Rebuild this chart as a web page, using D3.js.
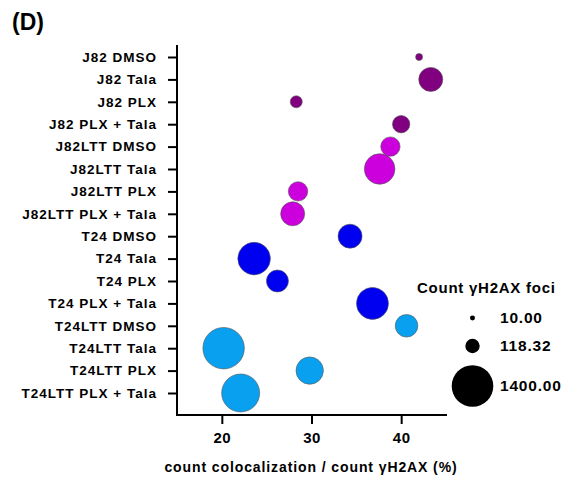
<!DOCTYPE html>
<html>
<head>
<meta charset="utf-8">
<script src="https://cdn.jsdelivr.net/npm/d3@7"></script>
<style>
  body { margin: 0; background: #fff; }
  text { font-family: "Liberation Sans", Arial, sans-serif; font-weight: bold; fill: #000; }
</style>
</head>
<body>
<div id="chart"></div>
<script>
// data
var groups = ["J82 DMSO", "J82 Tala", "J82 PLX", "J82 PLX + Tala",
  "J82LTT DMSO", "J82LTT Tala", "J82LTT PLX", "J82LTT PLX + Tala",
  "T24 DMSO", "T24 Tala", "T24 PLX", "T24 PLX + Tala",
  "T24LTT DMSO", "T24LTT Tala", "T24LTT PLX", "T24LTT PLX + Tala"];
var colocPct = [42.0, 43.3, 28.3, 40.0, 38.8, 37.6, 28.5, 27.9,
  34.3, 23.6, 26.2, 36.8, 40.6, 20.2, 29.8, 22.1];
var fociCount = [22, 390, 78, 184, 237, 686, 237, 390,
  390, 794, 318, 761, 339, 1390, 530, 1134];
var groupColors = ["#800080", "#800080", "#800080", "#800080",
  "#cc00dd", "#cc00dd", "#cc00dd", "#cc00dd",
  "#0000f0", "#0000f0", "#0000f0", "#0000f0",
  "#0aa0f0", "#0aa0f0", "#0aa0f0", "#0aa0f0"];
var xTicks = [20, 30, 40];
var legendValues = [10.00, 118.32, 1400.00];

var W = 588, H = 481;
var svg = d3.select("#chart").append("svg")
  .attr("width", W).attr("height", H);

var x = d3.scaleLinear().domain([15, 45]).range([177, 446]);
var y = d3.scalePoint().domain(groups).range([57, 393]);
var r = d3.scalePow().exponent(0.43).domain([0, 1400]).range([0, 20.8]);

// title
svg.append("text").attr("x", 12).attr("y", 30)
  .style("font-size", "23px").text("(D)");

// y axis
var yAxis = svg.append("g")
  .attr("transform", "translate(177,0)")
  .call(d3.axisLeft(y).tickSize(9).tickPadding(11));
yAxis.select(".domain").attr("d", "M0,45V415");
yAxis.selectAll("line, path").attr("stroke", "#000").attr("stroke-width", 2);
yAxis.selectAll("text")
  .style("font-size", "13.5px").style("letter-spacing", "1px")
  .attr("font-family", null);

// x axis
var xAxis = svg.append("g")
  .attr("transform", "translate(0,415)")
  .call(d3.axisBottom(x).tickValues(xTicks).tickSize(9).tickPadding(8).tickSizeOuter(0));
xAxis.select(".domain").attr("d", "M176,0H447");
xAxis.selectAll("line, path").attr("stroke", "#000").attr("stroke-width", 2);
xAxis.selectAll("text")
  .style("font-size", "15px").style("letter-spacing", "0.5px")
  .attr("font-family", null);

svg.append("text")
  .attr("x", 311).attr("y", 472)
  .attr("text-anchor", "middle")
  .style("font-size", "14px").style("letter-spacing", "0.9px")
  .text("count colocalization / count γH2AX (%)");

// bubbles
var pts = groups.map(function(g, i) {
  return {g: g, v: colocPct[i], n: fociCount[i], c: groupColors[i]};
});
svg.append("g").selectAll("circle")
  .data(pts)
  .join("circle")
    .attr("cx", d => x(d.v))
    .attr("cy", d => y(d.g))
    .attr("r", d => r(d.n))
    .attr("fill", d => d.c)
    .attr("stroke", "#555")
    .attr("stroke-width", 0.6);

// size legend
svg.append("text").attr("x", 417).attr("y", 293)
  .style("font-size", "15px").style("letter-spacing", "0.75px")
  .text("Count γH2AX foci");
var legY = [318, 346, 386];
var leg = svg.append("g").selectAll("g")
  .data(legendValues)
  .join("g")
    .attr("transform", (d, i) => "translate(0," + legY[i] + ")");
leg.append("circle")
  .attr("cx", 472.5).attr("r", d => r(d))
  .attr("fill", "#000");
leg.append("text")
  .attr("x", 500).attr("dy", "0.35em")
  .style("font-size", "15.5px").style("letter-spacing", "0.8px")
  .text(d => d.toFixed(2));
</script>
</body>
</html>
